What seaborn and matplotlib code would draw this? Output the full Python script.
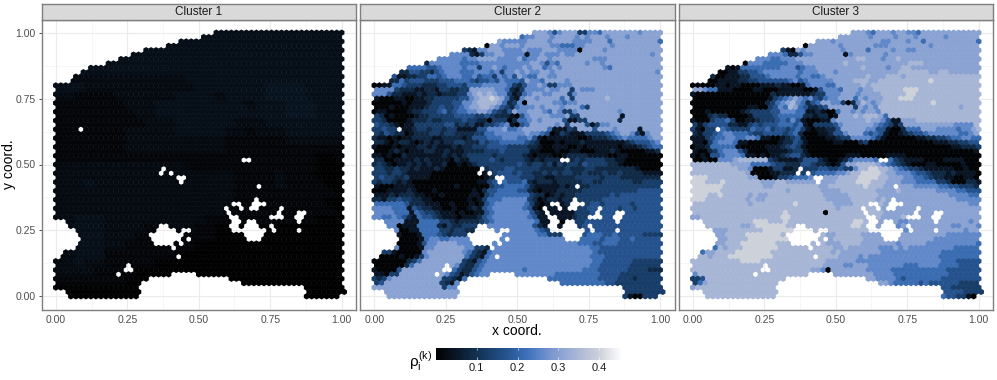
"""Spatial maps of rho for three clusters on a hexagonal spot lattice."""

import matplotlib.pyplot as plt
import pandas as pd
import seaborn as sns
from matplotlib.cm import ScalarMappable
from matplotlib.colors import LinearSegmentedColormap, Normalize

N_ROWS = 61
N_COLS = 58

# First spot of each lattice row (the slanted top edge and the bottom-left notch).
ROW_START = [32, 29, 25, 22, 18, 15, 13, 10, 7, 5, 4, 3] + [0] * 31 + [
    2, 3, 4, 5, 5, 5, 4, 2, 1, 0, 0, 0, 0, 0, 0, 0, 2, 3,
]
ROW_END = {60: 56, 59: 57}

# Spots without a value, row -> columns.
MISSING = {
    22: [5],
    29: [37, 38],
    31: [21],
    32: [21, 23],
    33: [24, 25],
    34: [25],
    35: [40],
    38: [40],
    39: [35, 36, 39, 40, 41],
    40: [34, 37, 39, 40, 45],
    41: [34, 44, 48, 49],
    42: [35, 36, 43, 44, 45, 48, 49],
    43: [35, 36, 38, 39, 48],
    44: [21, 22, 35, 36, 38, 39, 40, 43],
    45: [20, 21, 22, 23, 25, 26, 35, 36, 37, 38, 39, 40, 41, 43, 48],
    46: [19, 20, 21, 22, 23, 24, 25, 38, 39, 40, 41],
    47: [19, 20, 21, 22, 23, 24, 26, 38, 39, 40],
    48: [20, 21, 22, 23, 25],
    49: [23],
    51: [24],
    53: [14],
    54: [14, 15],
    55: [12] + list(range(23, 28)),
    56: list(range(19, 35)),
    57: list(range(17, 37)),
    58: list(range(17, 50)),
    59: list(range(17, 50)),
    60: list(range(17, 50)),
}

# Estimated rho for 2x2 blocks of spots, digits are hundredths.
CLUSTER_1 = [
    "33333333333333333333333333333",
    "33333333333333333333333333333",
    "33333333333333333333333333333",
    "33333333333333333333333333333",
    "33333333333333333333333333333",
    "22222222222223333333333333333",
    "33322222222222333333344443333",
    "22111122222233332333344443333",
    "11111112223333333332333444333",
    "11111111223333333333333444333",
    "11111111122233333322233333333",
    "11111112222233333221222333333",
    "11111112222222222111111222222",
    "11111112222222222111111111111",
    "11111111111111111111111111001",
    "22222222222221111111111111000",
    "22222222222222222211112111000",
    "22232222222222222211112111100",
    "22222222222222222211111111110",
    "22222222222222222211111111100",
    "22222222222222222111111111110",
    "22333222222222211111111111000",
    "22333222212222110000000000000",
    "22333222111111110000000000000",
    "22333221111111000000000000000",
    "22333111111100000000000000000",
    "22322111110000000000000000000",
    "22221111000000000000000000000",
    "11111110000000000000000000000",
    "00000000000000000000000000000",
    "00000000000000000000000000000",
]

# Estimated level of every spot, see LEVELS; "." lies outside the tissue.
CLUSTER_2 = [
    "................................77764677733665777777767777",
    ".............................56677767777676777677767777777",
    ".........................766666777767777666677757777777775",
    "......................077677767777766555667777767777777777",
    "..................321667776666766677766660777767777777777",
    "...............6666213667766661667666766777777777777777677",
    ".............666665667777666675667767777777766677777777777",
    "..........266666655556666666666776465777776776777777777777",
    ".......555544566665663667656667677567677777777657777777777",
    ".....2244332456665556665636676766776777777777777777777776",
    "....411223355456665564553656476557766777777777777777777777",
    "...2253444333444555434454655547665777767777777777777777777",
    "001155433322233444355566666532466763366677777777777777777",
    "666632221122133223377777665213666676677376667777777777777",
    "666422111212212223367878766312567766777367777777777777777",
    "100011001122333334467889875216776777757377777787777777777",
    "0000001011123333446678888752360777776656677777777777777777",
    "000100011123343345677887643256667677767775377777777777777",
    "011000012233345345566776432476677765763367777777767777777",
    "320100001223333344443343222104677776667337777777717777777",
    "332000012223223333433220333025567677774113377777727777777",
    "433210113333334423231133456104577777673777413667777777777",
    "3343331123323323311114466675567777751113277747776777717777",
    "324322012223323322223355666666766540132111333345677631677",
    "211010112222112222124445556665564101111110012223456555567",
    "221012210121212233222434455555432000101112111111112344456",
    "100010111221211121223334444333322100111001011111101112345",
    "000121011122112111222233343333311000100110001112100000112",
    "110100211111112121233333233333210111001222211110011000000",
    "220011112121111021133334323333212122221232333322110000000",
    "232101121212112001012333333334323323132332433332210000000",
    "332232212111210000000123334433333222223222332222222210000",
    "333233211111000000000013344434332232323322322232232222111",
    "343322311110000000000012344443332211222233333233322222222",
    "323321210000000000000113445444521222122222332233333322333",
    "100011110000000010000003445555421111121222233333333333333",
    "000111121000100000001024455554421011122222333333333334444",
    "111212221100010000011034555555532201212233333334344444444",
    "221334332211000000010135556666632012212233333344444444444",
    "555555422211100100010145666666531010212133344344444344444",
    "666655514322110010012145666666541011111233344444434434444",
    "666655515433211101001145666666642101111133344444444444444",
    "665565421544321110111245666666654111011123344444444444444",
    "..6666111555533212222345666666665111101233444444444444444",
    "...66011155552132233345666666666421101133344444444444444",
    "....6001155553323322334566666666543213134444444444444444",
    ".....10001555432333244566666666665533344454555445444443",
    ".....00001566556666634566666666666666655555554555445444",
    ".....00001466777766663256666666666666666655544555444444",
    "....6000016677777766332566666666666666666665544444444444",
    "..33100000677777776532156666666666666666666654444444444",
    ".000010013677777775321566666666666666666666555444444444",
    "0000000235777777773214566666666666666666666655444444333",
    "0000002577777777632245666666666666666666666554444443333",
    "10000477777777765322456666666656666666666655544444433332",
    "110337777777776431245666666666666666555555555444433333",
    "32367777777777332155566666666666555555555555544443332333",
    "34777777777773216666666666666666665555555555554433333333",
    "777777777777773666666666666666666666655555555544433333333",
    "..7777777777777777777777777777777777777777777777773333333",
    "...7777777777777777777777777777777777777777777773331003",
]

CLUSTER_3 = [
    "................................77765777677665777777777777",
    ".............................77777767777677767777767777777",
    ".........................777677777777766777677577777777775",
    "......................077777767777776667777777767777777777",
    "..................3107677777776777757777677667777777777777",
    "...............6665224667777771677777767777777777777777777",
    ".............666556667777777777778877767787777777777777777",
    "..........066655555666777777778777777777777888777777777777",
    ".......1015555555566645667777777778777767788777777777777",
    ".....0011334456666666566677767777777777778888887788777777",
    "....200111224445666665665567777777787778887888888888888888",
    "...0011112233444444564566666777788877888888888898888888888",
    "000001101100001112110015666557777787888888888888888888888",
    "77655111000011000111110014666577767788888899988888888888",
    "10000000000000002111111123366677767777888889988888888888",
    "000000000000000134567656435667775767778889998888888888888",
    "000000000000000235678652457766302687678888888888988888888",
    "000000000001100346587542234777773767688888888888888887888",
    "000100000012333344666551121005776767768888888888888888888",
    "0002322000013333455555221220177787888758888888888888888",
    "10003445300112333454641000116777777877641177788888888888888",
    "3134444221134344455545103333467777776543137777777777666688",
    "3103345433335445344345310112247777766441002555777666656678",
    "2133456655543344443452000112446777545410012344566666655677",
    "11134556655665110012341000011233666653100000011223345566555",
    "1103566651100000012243100000110002300000000000001112233445",
    "01125555510000011123431000000000000000000000000000001122234",
    "100235666420000111123310000000000000000000000000000000001122",
    "1010445666511010112344210000000111000001111000000000000000",
    "001006667888888321111244421001246666555532111100001111000000",
    "8888888877775555433222443221014778888765432100011000001000000",
    "88888888877600013311223334433433688998876543321111110010000000",
    "88888888888700001122223445555667889999877666544322212111100001",
    "9998888888877000133455566677788889999887776655432211001100001",
    "99988898888888777887777777777888899988877766655553320002210011",
    "9999998888888877888888888778888888988877777766666554433322212",
    "99999988888888888887888888777788888887777877777776666554443334",
    "9998898888878778888888888877777888888777777777777776666555566",
    "99988888888787788888888888877777888887877777777777777666666666",
    "88888888888788888888988888887777888888777777777777777776666666",
    "88888888888888888888888888888788888888777777777777777777776666",
    "888888888888888888988888880888888888887777777777777777777766",
    "778888888888888888998888888888888888887777877777777777777766",
    "..888888888899988898888888888888998887777667777777777776777",
    "...88888887789999998888888888888998877776677777777776677766",
    "....7778888888999999888888888888888877766667777777777767766",
    ".....77888899999998888888887788888777776677777777776666666",
    ".....7788889999999988888888788888877777767777777666666666",
    ".....77888999999988888888887778888777777767777766666666665",
    "....58788899999998888888888877877777766676766666666655555",
    "..57788889999999888888888888787777777766666666666655555555",
    ".8878889999999998888888888888777767666666666666665555555",
    "8888888888999988888888888887777776666666666666666655544444",
    "8888888888888888888888888877776677766666665556666555544445",
    "8888888888888888888888887760777777766666555555555554444444",
    "68888888888888888888888677777777777766665555555555544444444",
    "3348888888888888888888877777777777777666654555555544444444",
    "3578888888888888888888877777777777777776555554544444433334",
    "78888888888888888888887777777777777777777666654444443333333",
    "..888888888888888888888888888888888888888888888886444433333",
    "...88888888888888888888888888888888888888888888888544331033",
]

# rho of each digit in the cluster 2 and 3 grids.
LEVELS = [0.005, 0.045, 0.085, 0.125, 0.17, 0.215, 0.26, 0.305, 0.345, 0.40]

TICK_VALUES = [0.0, 0.25, 0.5, 0.75, 1.0]
TICK_LABELS = ["0.00", "0.25", "0.50", "0.75", "1.00"]
MINOR_TICKS = [0.125, 0.375, 0.625, 0.875]
LEGEND_TICKS = [0.1, 0.2, 0.3, 0.4]
RHO_MAX = 0.456

sns.set_theme(style="whitegrid")
plt.rcParams["font.family"] = ["Liberation Sans", "DejaVu Sans"]
plt.rcParams["mathtext.fontset"] = "custom"
plt.rcParams["mathtext.rm"] = "Liberation Sans"
plt.rcParams["mathtext.it"] = "Liberation Sans"

oslo = LinearSegmentedColormap.from_list(
    "oslo_like",
    [
        (0.0, "#010102"),
        (0.12, "#0b1a2c"),
        (0.25, "#15385f"),
        (0.38, "#265490"),
        (0.5, "#4074bd"),
        (0.62, "#7a97d0"),
        (0.75, "#a6b5d6"),
        (0.88, "#cdd1da"),
        (1.0, "#ffffff"),
    ],
)


def build_spots(name, grid, levels, block):
    """Turn one grid (block = spots per grid cell) into a long table of spots."""
    rows = []
    for r in range(N_ROWS):
        last = ROW_END.get(r, N_COLS - 1 - r % 2)
        line = grid[r // block]
        for c in range(ROW_START[r], last + 1):
            if c in MISSING.get(r, []):
                continue
            # Hand-typed rows can fall a little short, the last digit carries on.
            char = line[min(c // block, len(line) - 1)]
            rows.append({
                "cluster": name,
                "x": (c + 0.5 * (r % 2)) / 57,
                "y": 1 - r / 60,
                "rho": levels[7 if char == "." else int(char)],
            })
    return rows


spots = pd.DataFrame(
    build_spots("Cluster 1", CLUSTER_1, [d / 100 for d in range(10)], 2)
    + build_spots("Cluster 2", CLUSTER_2, LEVELS, 1)
    + build_spots("Cluster 3", CLUSTER_3, LEVELS, 1)
)

W, H = 997, 380
g = sns.FacetGrid(spots, col="cluster", sharex=False, sharey=False)
g.figure.set_size_inches(W / 100, H / 100)
g.figure.set_dpi(100)
g.map_dataframe(
    sns.scatterplot, x="x", y="y", hue="rho", hue_norm=(0, RHO_MAX),
    palette=oslo, marker="h", s=21, linewidth=0, legend=False,
)

# Panel left and right edges in pixels.
PANEL_EDGES = [(41.5, 356), (360, 674.5), (678.5, 993)]
TOP, BOTTOM, STRIP_TOP = 19.5, 309.5, 3.5

for i, ax in enumerate(g.axes.flat):
    left, right = PANEL_EDGES[i]
    ax.set_position([left / W, 1 - BOTTOM / H, (right - left) / W, (BOTTOM - TOP) / H])
    ax.set_xlim(-0.05, 1.05)
    ax.set_ylim(-0.05, 1.05)
    ax.set_title("")
    ax.set_xlabel("")
    ax.set_ylabel("")
    ax.set_facecolor("white")
    ax.set_xticks(TICK_VALUES, TICK_LABELS)
    ax.set_yticks(TICK_VALUES, TICK_LABELS if i == 0 else [])
    ax.set_xticks(MINOR_TICKS, minor=True)
    ax.set_yticks(MINOR_TICKS, minor=True)
    ax.grid(True, which="major", color="#ebebeb", linewidth=0.8)
    ax.grid(True, which="minor", color="#f0f0f0", linewidth=0.4)
    ax.set_axisbelow(True)
    ax.tick_params(axis="both", which="major", length=2.5, width=0.6, color="#333333",
                   labelcolor="#4d4d4d", labelsize=7.5, pad=1.5)
    ax.tick_params(axis="y", which="major", left=i == 0)
    ax.tick_params(axis="both", which="minor", length=0)
    for spine in ax.spines.values():
        spine.set_visible(True)
        spine.set_color("#7f7f7f")
        spine.set_linewidth(1.0)

    strip = g.figure.add_axes(
        [left / W, 1 - TOP / H, (right - left) / W, (TOP - STRIP_TOP) / H]
    )
    strip.set_facecolor("#d9d9d9")
    strip.set_xticks([])
    strip.set_yticks([])
    strip.grid(False)
    for spine in strip.spines.values():
        spine.set_visible(True)
        spine.set_color("#7f7f7f")
        spine.set_linewidth(1.0)
    strip.text(0.5, 0.47, f"Cluster {i + 1}", ha="center", va="center",
               fontsize=8.5, color="#1a1a1a", transform=strip.transAxes)

g.figure.text(517 / W, 1 - 331 / H, "x coord.", ha="center", va="center",
              fontsize=10, color="black")
g.figure.text(9 / W, 1 - 164 / H, "y coord.", ha="center", va="center",
              rotation=90, fontsize=10, color="black")

# Colour bar along the bottom.
cax = g.figure.add_axes([436 / W, 1 - 359.5 / H, 186 / W, 11.5 / H])
bar = g.figure.colorbar(
    ScalarMappable(norm=Normalize(0, RHO_MAX), cmap=oslo), cax=cax,
    orientation="horizontal",
)
bar.set_ticks(LEGEND_TICKS, labels=[f"{v:.1f}" for v in LEGEND_TICKS])
bar.outline.set_visible(False)
cax.grid(False)
cax.tick_params(axis="x", length=0, labelsize=8, labelcolor="#1a1a1a", pad=2.5)
for v in LEGEND_TICKS:
    cax.plot([v, v], [0, 0.2], color="white", linewidth=0.4)
    cax.plot([v, v], [0.8, 1], color="white", linewidth=0.4)
g.figure.text(421 / W, 1 - 362 / H, r"$\rho_i^{(k)}$", ha="center", va="center",
              fontsize=11, color="black")

g.figure.savefig("out.png", dpi=100)
